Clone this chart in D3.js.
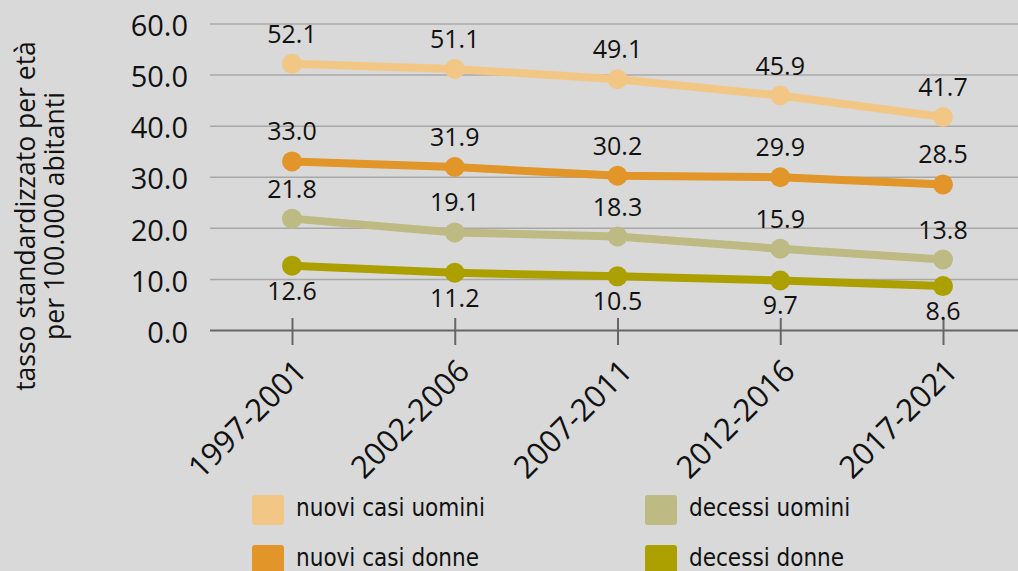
<!DOCTYPE html>
<html>
<head>
<meta charset="utf-8">
<script src="https://cdn.jsdelivr.net/npm/d3@7"></script>
<style>
  body { margin: 0; background: #d9d9d9; }
  #chart { width: 1018px; height: 571px; }
  text { fill: #111; }
</style>
</head>
<body>
<div id="chart"></div>
<script>
// periods on the x axis
const periods = ["1997-2001", "2002-2006", "2007-2011", "2012-2016", "2017-2021"];

// rates per 100.000
const nuoviCasiUomini = [52.1, 51.1, 49.1, 45.9, 41.7];
const nuoviCasiDonne = [33.0, 31.9, 30.2, 29.9, 28.5];
const decessiUomini = [21.8, 19.1, 18.3, 15.9, 13.8];
const decessiDonne = [12.6, 11.2, 10.5, 9.7, 8.6];

const yTicks = [0, 10, 20, 30, 40, 50, 60];

const seriesNames = ["nuovi casi uomini", "nuovi casi donne", "decessi uomini", "decessi donne"];
const seriesColors = ["#f2c786", "#e29528", "#bdba83", "#aba000"];

const series = [
    {name: seriesNames[0], values: nuoviCasiUomini, color: seriesColors[0], below: false},
    {name: seriesNames[1], values: nuoviCasiDonne, color: seriesColors[1], below: false},
    {name: seriesNames[2], values: decessiUomini, color: seriesColors[2], below: false},
    {name: seriesNames[3], values: decessiDonne, color: seriesColors[3], below: true}
];

/*
SVG
*/
const width = 1018;
const height = 571;
const margin = {top: 23.5, left: 210, right: 0, bottom: 241};

const svg = d3.select("#chart")
    .append("svg")
    .attr("width", width)
    .attr("height", height);

const font = "'Open Sans', sans-serif";
const narrow = "'DejaVu Sans Condensed', 'Liberation Sans Narrow', sans-serif";

/*
SCALES
*/
const xScale = d3.scalePoint()
    .domain(periods)
    .range([292, 943]);

const yScale = d3.scaleLinear()
    .domain([0, 60])
    .range([height - margin.bottom, margin.top]);

/*
GRID + Y AXIS
*/
const yAxis = svg.append("g")
    .attr("transform", `translate(${margin.left},0)`)
    .call(d3.axisLeft(yScale)
        .tickValues(yTicks)
        .tickFormat(d3.format(".1f"))
        .tickSize(-(width - margin.left))
        .tickPadding(22));

yAxis.select(".domain").remove();
yAxis.selectAll(".tick line")
    .attr("stroke", function(d) { return d === 0 ? "#666" : "#a8a8a8"; })
    .attr("stroke-width", function(d) { return d === 0 ? 2 : 1.5; });
yAxis.selectAll(".tick text")
    .attr("font-family", font)
    .attr("font-size", 29)
    .attr("fill", "#111")
    .attr("dy", "0.42em");

/*
X AXIS
*/
const xAxis = svg.append("g")
    .attr("transform", `translate(0,${yScale(0)})`)
    .call(d3.axisBottom(xScale).tickSize(15).tickPadding(0));

xAxis.select(".domain").remove();
xAxis.selectAll(".tick line")
    .attr("y1", -12)
    .attr("stroke", "#666")
    .attr("stroke-width", 2);
xAxis.selectAll(".tick text")
    .attr("font-family", font)
    .attr("font-size", 31)
    .attr("fill", "#111")
    .attr("text-anchor", "end")
    .attr("dy", 0)
    .attr("y", 0)
    .attr("transform", "translate(16,43) rotate(-45)");

/*
LINES AND POINTS
*/
const line = d3.line()
    .x(function(d, i) { return xScale(periods[i]); })
    .y(function(d) { return yScale(d); });

series.forEach(function(s) {
    const g = svg.append("g");

    g.append("path")
        .datum(s.values)
        .attr("fill", "none")
        .attr("stroke", s.color)
        .attr("stroke-width", 8)
        .attr("d", line);

    g.selectAll("circle")
        .data(s.values)
        .enter()
        .append("circle")
            .attr("cx", function(d, i) { return xScale(periods[i]); })
            .attr("cy", function(d) { return yScale(d); })
            .attr("r", 10)
            .attr("fill", s.color);

    g.selectAll("text")
        .data(s.values)
        .enter()
        .append("text")
            .attr("x", function(d, i) { return xScale(periods[i]); })
            .attr("y", function(d) { return s.below ? yScale(d) + 34 : yScale(d) - 21; })
            .attr("text-anchor", "middle")
            .attr("font-family", font)
            .attr("font-size", 25)
            .text(function(d) { return d.toFixed(1); });
});

/*
Y AXIS TITLE
*/
const yTitle = svg.append("text")
    .attr("transform", "translate(35,216) rotate(-90)")
    .attr("text-anchor", "middle")
    .attr("font-family", font)
    .attr("font-size", 26.5);

yTitle.append("tspan").attr("x", 0).attr("dy", 0).text("tasso standardizzato per età");
yTitle.append("tspan").attr("x", 0).attr("dy", 29).text("per 100.000 abitanti");

/*
LEGEND
*/
const legendX = [252, 645];
const legendY = [495, 545];

const legend = svg.selectAll(".legend")
    .data(series)
    .enter()
    .append("g")
    .attr("class", "legend")
    .attr("transform", function(d, i) {
        return `translate(${legendX[Math.floor(i / 2)]},${legendY[i % 2]})`;
    });

legend.append("rect")
    .attr("width", 32)
    .attr("height", 30)
    .attr("rx", 3)
    .attr("fill", function(d) { return d.color; });

legend.append("text")
    .attr("x", 44)
    .attr("y", 21)
    .attr("font-family", narrow)
    .attr("font-size", 24)
    .text(function(d) { return d.name; });
</script>
</body>
</html>
